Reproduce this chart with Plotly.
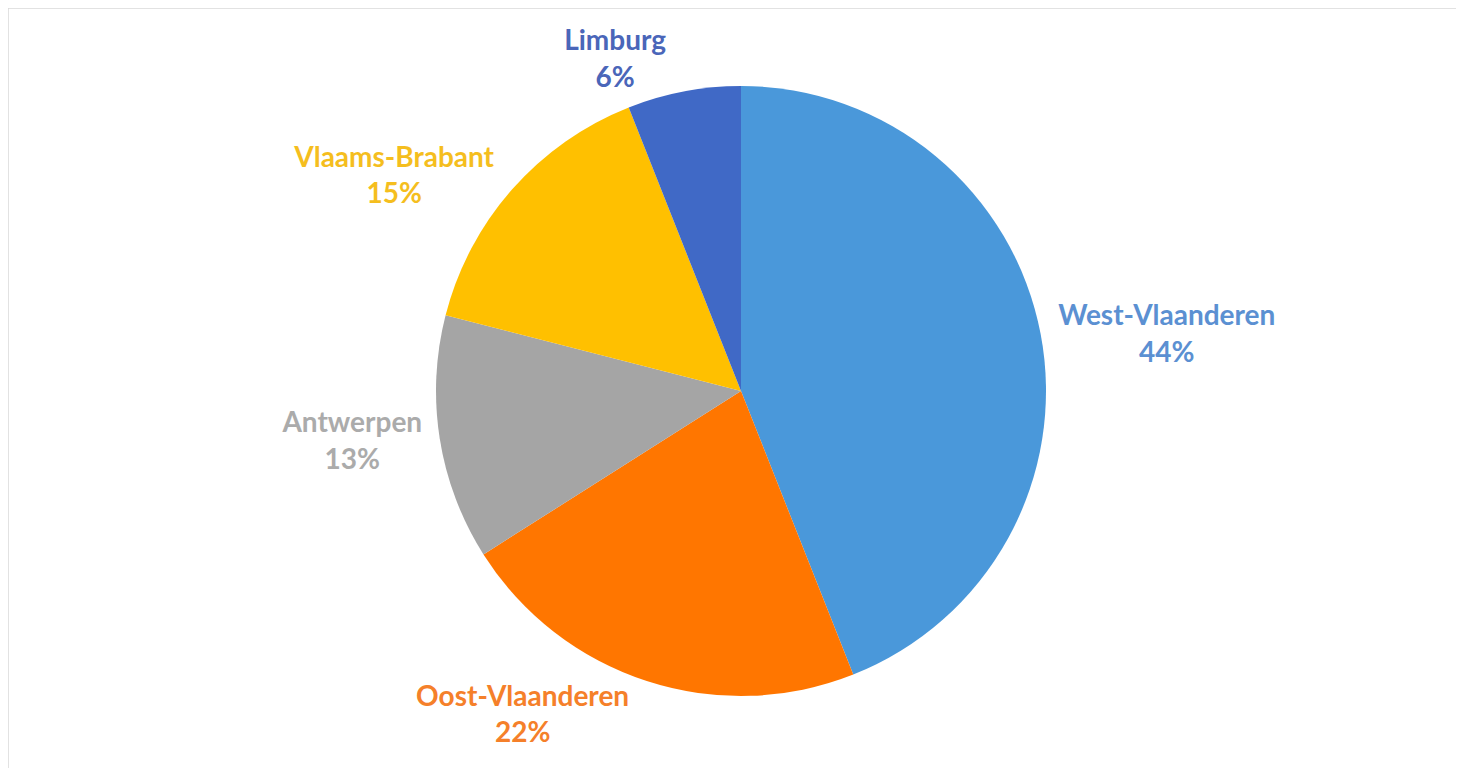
import plotly.graph_objects as go

# provinces, clockwise from 12 o'clock
provinces = ["West-Vlaanderen", "Oost-Vlaanderen", "Antwerpen", "Vlaams-Brabant", "Limburg"]
shares = [44, 22, 13, 15, 6]
slice_colors = ["#4A98DA", "#FF7600", "#A5A5A5", "#FFC000", "#4069C6"]
label_colors = ["#5B90D2", "#F5802A", "#ABABAB", "#F5BE1E", "#4A66B9"]

W, H = 1464, 768
margin = dict(l=4, r=2, t=78, b=80)
plot_w = W - margin["l"] - margin["r"]
plot_h = H - margin["t"] - margin["b"]

fig = go.Figure()
fig.add_trace(go.Pie(
    labels=provinces,
    values=shares,
    sort=False,
    direction="clockwise",
    rotation=0,
    automargin=False,
    marker=dict(colors=slice_colors, line=dict(width=0)),
    textposition="outside",
    texttemplate="%{label}<br>%{percent:.0%}",
    textfont=dict(family="Lato", size=28, color=label_colors, weight="bold"),
    hoverinfo="label+percent",
    showlegend=False,
))

# light chart-area border: only the top and left edges are inside the view
x_left = -margin["l"] / plot_w
y_top = 1 + margin["t"] / plot_h
border = dict(color="#D9D9D9", width=1.5)
fig.add_shape(type="line", xref="paper", yref="paper",
              x0=x_left, x1=1.0, y0=y_top, y1=y_top, line=border)
fig.add_shape(type="line", xref="paper", yref="paper",
              x0=x_left, x1=x_left, y0=-0.3, y1=y_top, line=border)

fig.update_layout(
    width=W, height=H,
    margin=dict(margin, autoexpand=False),
    paper_bgcolor="white",
    plot_bgcolor="white",
)

fig.write_html("out.html")
